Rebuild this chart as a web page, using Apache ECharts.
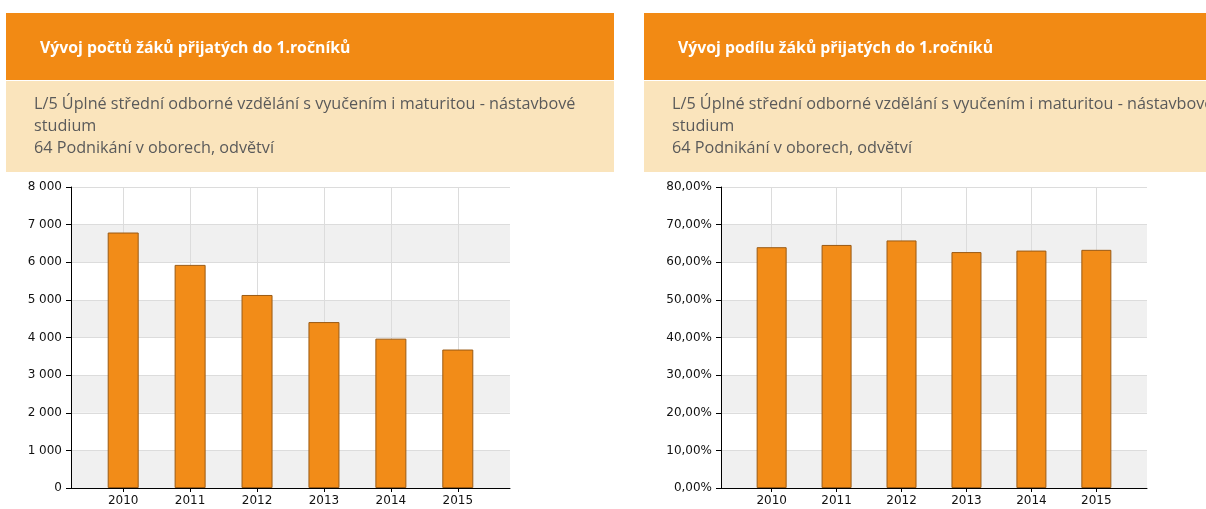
<!DOCTYPE html>
<html>
<head>
<meta charset="utf-8">
<script src="https://cdn.jsdelivr.net/npm/echarts@6/dist/echarts.min.js"></script>
<style>
html,body{margin:0;padding:0;background:#fff;}
#c{width:1206px;height:509px;}
</style>
</head>
<body>
<div id="c"></div>
<script>
const years = [2010, 2011, 2012, 2013, 2014, 2015];
const counts = [6790, 5930, 5130, 4410, 3970, 3680];
const shares = [64.0, 64.6, 65.8, 62.7, 63.1, 63.3];
const leftTitle = 'Vývoj počtů žáků přijatých do 1.ročníků';
const rightTitle = 'Vývoj podílu žáků přijatých do 1.ročníků';
const subLines = ['L/5 Úplné střední odborné vzdělání s vyučením i maturitou - nástavbové', 'studium', '64 Podnikání v oborech, odvětví'];

const ORANGE = '#f28a14', BEIGE = '#fae4bc';
const chart = echarts.init(document.getElementById('c'), null, {renderer: 'canvas'});

function header(x, w, title) {
  const els = [
    {type: 'rect', shape: {x: x, y: 13, width: w, height: 67}, style: {fill: ORANGE}, silent: true},
    {type: 'rect', shape: {x: x, y: 81, width: w, height: 91}, style: {fill: BEIGE}, silent: true},
    {type: 'text', x: x + 34, y: 48, style: {text: title, fill: '#fff', font: 'bold 15.8px "Open Sans"', verticalAlign: 'middle'}, silent: true}
  ];
  subLines.forEach((t, i) => {
    els.push({type: 'text', x: x + 28, y: 104 + i * 22, style: {text: t, fill: '#5a5a5a', font: '16.2px "Open Sans"', verticalAlign: 'middle'}, silent: true});
  });
  return els;
}

const xCommon = (idx) => ({
  type: 'value', gridIndex: idx, min: 2009.22, max: 2015.78,
  axisLine: {show: true, lineStyle: {color: '#000', width: 1}},
  axisTick: {show: true, customValues: years, length: 4, lineStyle: {color: '#000'}},
  axisLabel: {customValues: years, formatter: v => String(v), color: '#111', fontFamily: 'DejaVu Sans', fontSize: 12, margin: 7},
  splitLine: {show: true, lineStyle: {color: '#dcdcdc'}}
});

const yCommon = (idx, max, interval, fmt) => ({
  type: 'value', gridIndex: idx, min: 0, max: max, interval: interval,
  axisLine: {show: true, lineStyle: {color: '#000', width: 1}},
  axisTick: {show: true, length: 5, lineStyle: {color: '#000'}},
  axisLabel: {formatter: fmt, color: '#111', fontFamily: 'DejaVu Sans', fontSize: 12, margin: 9},
  splitLine: {show: true, lineStyle: {color: '#dcdcdc'}},
  splitArea: {show: true, areaStyle: {color: ['#f0f0f0', '#ffffff']}}
});

const barStyle = {color: '#f28c18', borderColor: '#9a5a14', borderWidth: 1};

chart.setOption({
  animation: false,
  graphic: [...header(6, 608, leftTitle), ...header(644, 620, rightTitle)],
  grid: [
    {left: 71, top: 187, width: 439, height: 301},
    {left: 721, top: 187, width: 426, height: 301}
  ],
  xAxis: [xCommon(0), xCommon(1)],
  yAxis: [
    yCommon(0, 8000, 1000, v => String(v).replace(/\B(?=(\d{3})+(?!\d))/g, ' ')),
    yCommon(1, 80, 10, v => v.toFixed(2).replace('.', ',') + '%')
  ],
  series: [
    {type: 'bar', xAxisIndex: 0, yAxisIndex: 0, barWidth: 31, itemStyle: barStyle,
     data: years.map((y, i) => [y, counts[i]])},
    {type: 'bar', xAxisIndex: 1, yAxisIndex: 1, barWidth: 30, itemStyle: barStyle,
     data: years.map((y, i) => [y, shares[i]])}
  ]
});
</script>
</body>
</html>
